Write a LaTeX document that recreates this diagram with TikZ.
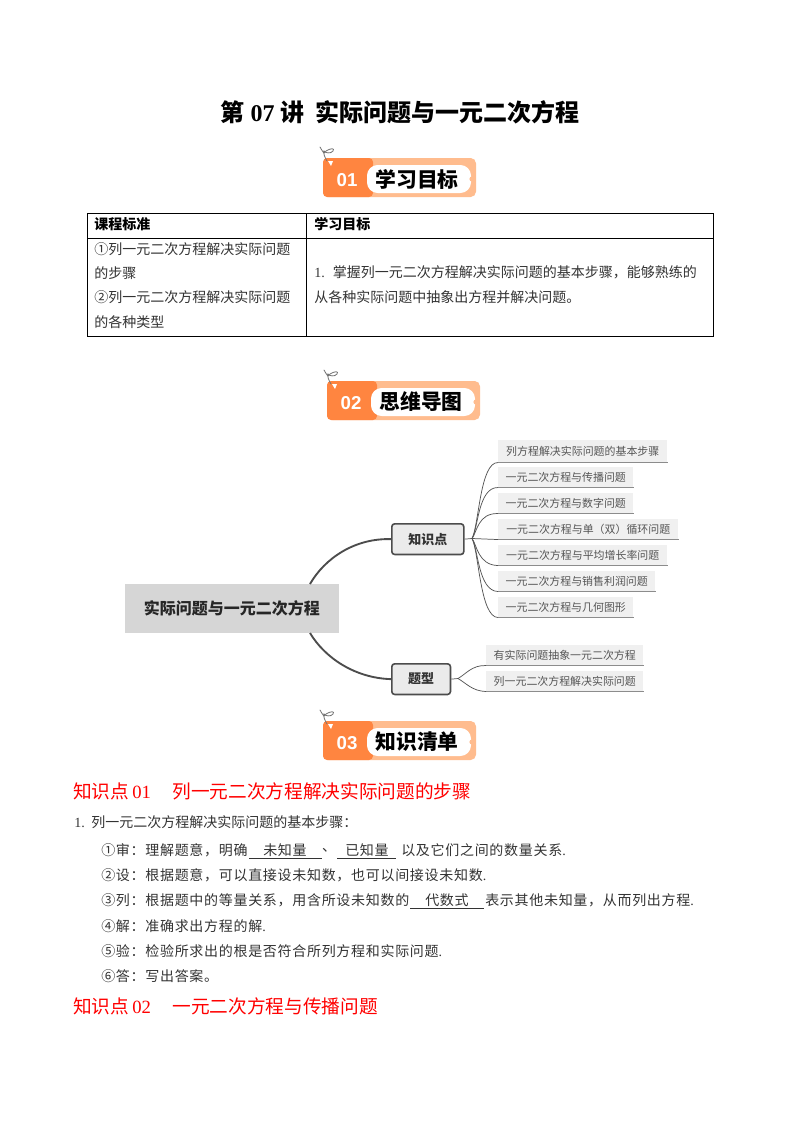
\documentclass[tikz,border=0pt]{standalone}
\usepackage{fontspec}
\setmainfont{Liberation Serif}
\newfontfamily\cjk{Noto Sans CJK SC}
\newfontfamily\cjks[LetterSpace=5]{Noto Sans CJK SC}
\newfontfamily\badgenum{Liberation Sans}
\newcommand{\zcomma}{\char"FF0C\relax}
\newcommand{\zcolon}{\char"FF1A\relax}
\newcommand{\zlp}{\char"FF08\relax}
\newcommand{\zrp}{\char"FF09\relax}
\definecolor{orA}{HTML}{FF8540}
\definecolor{orB}{HTML}{FFBC8E}
\definecolor{bodyc}{HTML}{333333}
\definecolor{leafbg}{HTML}{F0F0F0}
\definecolor{leafline}{HTML}{8C8C8C}
\definecolor{leaftxt}{HTML}{555555}
\definecolor{conn}{HTML}{555555}
\tikzset{
  txt/.style={anchor=west,inner sep=0pt,text=bodyc,font=\fontsize{10.5}{10.5}\selectfont\cjk},
  txts/.style={anchor=west,inner sep=0pt,text=bodyc,font=\fontsize{10.5}{10.5}\selectfont\cjks},
  txtc/.style={txts,anchor=center},
  thead/.style={txt,font=\fontsize{10.5}{10.5}\selectfont\bfseries\cjk,text=black},
  redhead/.style={anchor=west,inner sep=0pt,text=red,font=\fontsize{14}{14}\selectfont\cjk},
  leafbox/.style={anchor=north west,inner sep=0pt,fill=leafbg,text=leaftxt,font=\fontsize{8.2}{8.2}\selectfont\cjk},
  midbox/.style={anchor=north west,inner sep=0pt,rounded corners=2.2pt,draw=black!70,line width=1.2pt,fill=black!8,font=\fontsize{9.75}{9.75}\selectfont\cjk\bfseries,text=black!80},
  rootbox/.style={anchor=north west,inner sep=0pt,fill=black!16,font=\fontsize{12}{12}\selectfont\cjk\bfseries,text=black!85},
  thick conn/.style={draw=black!70,line width=1.4pt},
  thin conn/.style={draw=conn,line width=0.55pt},
  uline/.style={draw=bodyc,line width=0.55pt},
  tabline/.style={draw=black,line width=0.6pt}
}
\newcommand{\mybadge}[4]{%
 \begin{scope}[shift={(#1,#2)}]
  \fill[orB,rounded corners=4pt] (0,0) rectangle (153,39);
  \fill[orA,rounded corners=3pt] (0,0) rectangle (50,39);
  \fill[white,rounded corners=8pt] (44,7) rectangle (148,35);
  \fill[orB] (149,21) circle (2.6);
  \fill[white] (5,3) -- (10,3) -- (8,8) -- cycle;
  \draw[black!55,line width=0.6pt,line cap=round] (-3,-11) .. controls (0,-6) and (1,-3) .. (3,-7) .. controls (8,-10) and (12,-10) .. (10,-7) .. controls (8,-4) and (2,-5) .. (1,-7) .. controls (0,-5) and (2,0) .. (4,3);
  \node[inner sep=0pt,text=white,font=\fontsize{14}{14}\selectfont\bfseries\badgenum] (#3n) at (24,22) {#3};
  \node[inner sep=0pt,text=black,font=\fontsize{15.6}{15.6}\selectfont\cjk\bfseries] (#3t) at (94,21) {#4};
 \end{scope}}
\begin{document}
\begin{tikzpicture}[x=0.75pt,y=-0.75pt]
\useasboundingbox (0,0) rectangle (800,1132);
\fill[white] (0,0) rectangle (800,1132);
% title
\node[inner sep=0pt,text=black,font=\fontsize{18}{18}\selectfont\bfseries\cjk] (title) at (400,112) {第\hspace{4.5pt}{\rmfamily 07}\hspace{4.5pt}讲\hspace{8pt}实际问题与一元二次方程};
\mybadge{323}{158}{01}{学习目标}
% table
\draw[tabline] (87,213) rectangle (713,336);
\draw[tabline] (87,238) -- (713,238);
\draw[tabline] (306,213) -- (306,336);
\node[thead] (th1) at (94,224) {课程标准};
\node[thead] (th2) at (314,224) {学习目标};
\node[txt] (c1) at (94,249) {①列一元二次方程解决实际问题};
\node[txt] (c2) at (94,273) {的步骤};
\node[txt] (c3) at (94,297) {②列一元二次方程解决实际问题};
\node[txt] (c4) at (94,322) {的各种类型};
\node[txt] (c5) at (314,272) {{\rmfamily 1.}\hspace{6pt}掌握列一元二次方程解决实际问题的基本步骤\zcomma 能够熟练的};
\node[txt] (c6) at (314,297) {从各种实际问题中抽象出方程并解决问题。};
\mybadge{327}{381}{02}{思维导图}
% mind map
\node[rootbox,minimum width=160pt,minimum height=36.75pt] (root) at (125,584) {实际问题与一元二次方程};
\node[midbox,minimum width=54pt,minimum height=23pt] (kp) at (391,523) {知识点};
\node[midbox,minimum width=44pt,minimum height=23pt] (tx) at (391,663) {题型};
\node[leafbox,minimum width=126.75pt,minimum height=16.5pt] (a1) at (498,440) {列方程解决实际问题的基本步骤};
\node[leafbox,minimum width=101.25pt,minimum height=15pt] (a2) at (498,467) {一元二次方程与传播问题};
\node[leafbox,minimum width=101.25pt,minimum height=15pt] (a3) at (498,493) {一元二次方程与数字问题};
\node[leafbox,minimum width=135pt,minimum height=15pt] (a4) at (498,519) {一元二次方程与单\zlp 双\zrp 循环问题};
\node[leafbox,minimum width=126.75pt,minimum height=15pt] (a5) at (498,545) {一元二次方程与平均增长率问题};
\node[leafbox,minimum width=117.75pt,minimum height=15pt] (a6) at (498,571) {一元二次方程与销售利润问题};
\node[leafbox,minimum width=101.25pt,minimum height=15pt] (a7) at (498,597) {一元二次方程与几何图形};
\node[leafbox,minimum width=117.75pt,minimum height=15pt] (b1) at (486,645) {有实际问题抽象一元二次方程};
\node[leafbox,minimum width=117.75pt,minimum height=15pt] (b2) at (486,671) {列一元二次方程解决实际问题};
\foreach \n in {a1,a2,a3,a4,a5,a6,a7,b1,b2}
  \draw[draw=leafline,line width=0.7pt] (\n.south west) -- (\n.south east);
\coordinate (rt) at (310,584);
\coordinate (rb) at (310,633);
\draw[thick conn] (rt) .. controls (325,558) and (355,538) .. (kp.west);
\draw[thick conn] (rb) .. controls (325,658) and (355,678) .. (tx.west);
\coordinate (kf) at (472,538.5);
\coordinate (tf) at (458,678.5);
\draw[thin conn] (kp.east) -- (kf);
\draw[thin conn] (tx.east) -- (tf);
\draw[thin conn] (kf) .. controls (479,525) and (480,462) .. (a1.south west);
\draw[thin conn] (kf) .. controls (478,530) and (478,487) .. (a2.south west);
\draw[thin conn] (kf) .. controls (477,532) and (478,513) .. (a3.south west);
\draw[thin conn] (kf) -- (a4.south west);
\draw[thin conn] (kf) .. controls (477,545) and (478,565) .. (a5.south west);
\draw[thin conn] (kf) .. controls (478,547) and (478,591) .. (a6.south west);
\draw[thin conn] (kf) .. controls (479,552) and (480,617) .. (a7.south west);
\draw[thin conn] (tf) .. controls (466,674) and (472,665) .. (b1.south west);
\draw[thin conn] (tf) .. controls (466,683) and (472,691) .. (b2.south west);
\mybadge{323}{721}{03}{知识清单}
% section 1
\node[redhead] (h1) at (73,791) {知识点\,{\rmfamily 01}\hspace{16pt}列一元二次方程解决实际问题的步骤};
\node[txt] (l0) at (74,822) {{\rmfamily 1.}\hspace{5pt}列一元二次方程解决实际问题的基本步骤\zcolon};
\node[txts] (l1) at (101,850) {①审\zcolon 理解题意\zcomma 明确};
\node[txtc] (u1) at (285,850) {未知量};
\node[txtc] (d1) at (329,850) {、};
\node[txtc] (u2) at (367,850) {已知量};
\node[txts] (l1b) at (401,850) {以及它们之间的数量关系{\rmfamily .}};
\draw[uline] ([yshift=-6.5pt]u1.center -| 249,0) -- ([yshift=-6.5pt]u1.center -| 322,0);
\draw[uline] ([yshift=-6.5pt]u2.center -| 337,0) -- ([yshift=-6.5pt]u2.center -| 396,0);
\node[txts] (l2) at (101,875) {②设\zcolon 根据题意\zcomma 可以直接设未知数\zcomma 也可以间接设未知数{\rmfamily .}};
\node[txts] (l3) at (101,900) {③列\zcolon 根据题中的等量关系\zcomma 用含所设未知数的};
\node[txtc] (u3) at (447,900) {代数式};
\node[txts] (l3b) at (485,900) {表示其他未知量\zcomma 从而列出方程{\rmfamily .}};
\draw[uline] ([yshift=-6.5pt]u3.center -| 410,0) -- ([yshift=-6.5pt]u3.center -| 484,0);
\node[txts] (l4) at (101,926) {④解\zcolon 准确求出方程的解{\rmfamily .}};
\node[txts] (l5) at (101,951) {⑤验\zcolon 检验所求出的根是否符合所列方程和实际问题{\rmfamily .}};
\node[txts] (l6) at (101,976) {⑥答\zcolon 写出答案。};
\node[redhead] (h2) at (73,1006) {知识点\,{\rmfamily 02}\hspace{16pt}一元二次方程与传播问题};
\end{tikzpicture}
\end{document}
